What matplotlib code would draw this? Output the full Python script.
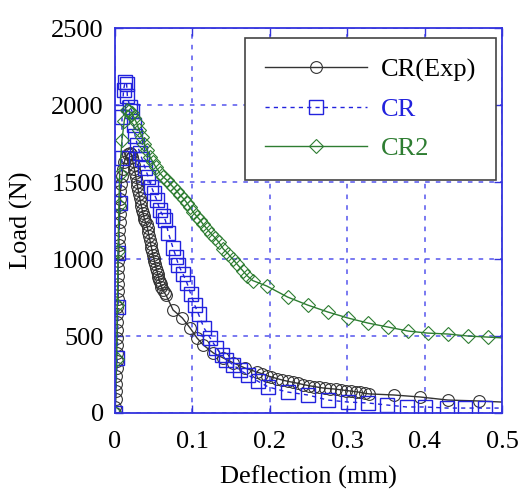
import matplotlib
matplotlib.use("Agg")
import matplotlib.pyplot as plt

plt.rcParams["font.family"] = ["Liberation Serif", "DejaVu Serif"]

# CR(Exp) - experiment
exp_x = [0.000, 0.000, 0.001, 0.001, 0.001, 0.001, 0.002, 0.002, 0.002, 0.002,
         0.003, 0.003, 0.003, 0.003, 0.003, 0.004, 0.004, 0.004, 0.004, 0.004,
         0.004, 0.005, 0.005, 0.005, 0.005, 0.006, 0.006, 0.006, 0.007, 0.007,
         0.008, 0.009, 0.010, 0.012, 0.014, 0.017,
         0.019, 0.021, 0.022, 0.023, 0.024, 0.025, 0.026, 0.027, 0.028, 0.029,
         0.030, 0.031, 0.032, 0.033, 0.034, 0.035, 0.036, 0.037, 0.038, 0.039,
         0.041, 0.042, 0.043, 0.044, 0.045, 0.046, 0.047, 0.048, 0.049, 0.050,
         0.051, 0.052, 0.053, 0.054, 0.055, 0.056, 0.057, 0.058, 0.059, 0.060,
         0.062, 0.064, 0.066,
         0.075, 0.087, 0.097, 0.106, 0.114, 0.127, 0.140, 0.153, 0.168, 0.183,
         0.190, 0.196, 0.202, 0.209, 0.216, 0.223, 0.230, 0.237, 0.243, 0.250,
         0.257, 0.264, 0.271, 0.278, 0.285, 0.292, 0.299, 0.305, 0.311, 0.317,
         0.323, 0.328, 0.360, 0.394, 0.430, 0.470, 0.500]
exp_y = [0, 40, 90, 140, 190, 240, 290, 340, 390, 440,
         490, 540, 590, 640, 690, 740, 790, 840, 890, 940,
         990, 1040, 1090, 1140, 1190, 1240, 1290, 1340, 1390, 1440,
         1490, 1540, 1585, 1630, 1665, 1685,
         1688, 1680, 1660, 1635, 1610, 1585, 1560, 1530, 1500, 1475,
         1448, 1420, 1395, 1370, 1345, 1320, 1300, 1280, 1260, 1245,
         1225, 1200, 1175, 1150, 1125, 1100, 1075, 1050, 1025, 1005,
         985, 965, 945, 925, 905, 885, 865, 850, 835, 820,
         800, 780, 765,
         669, 617, 552, 487, 442, 390, 357, 325, 292, 266,
         255, 243, 234, 224, 214, 206, 199, 192, 185, 178,
         172, 166, 161, 158, 155, 150, 146, 142, 138, 134,
         128, 124, 117, 104, 84, 78, 71]

# CR - model
cr_x = [0.000, 0.003, 0.004, 0.004, 0.007, 0.009, 0.009, 0.011, 0.013, 0.015,
        0.016, 0.019, 0.022, 0.024, 0.026, 0.029, 0.032, 0.035, 0.039, 0.043,
        0.047, 0.050, 0.054, 0.058, 0.062, 0.065, 0.069, 0.075, 0.079, 0.082,
        0.088, 0.093, 0.098, 0.103, 0.108, 0.115, 0.123, 0.131, 0.138, 0.144,
        0.153, 0.161, 0.172, 0.185, 0.198, 0.223, 0.249, 0.275, 0.301, 0.327,
        0.351, 0.377, 0.401, 0.429, 0.452, 0.478, 0.500]
cr_y = [0, 357, 690, 1039, 1364, 1656, 1922, 2097, 2150, 2136,
        2058, 1990, 1960, 1870, 1800, 1740, 1690, 1650, 1590, 1532,
        1470, 1430, 1383, 1318, 1280, 1253, 1169, 1071, 1013, 960,
        900, 844, 770, 700, 640, 552, 487, 422, 377, 344,
        312, 279, 247, 205, 169, 136, 117, 84, 71, 65,
        52, 39, 39, 32, 32, 32, 32]

# CR2 - model
cr2_x = [0.000, 0.002, 0.003, 0.004, 0.005, 0.006, 0.009, 0.012, 0.015, 0.018,
         0.022, 0.025, 0.028, 0.031, 0.035, 0.038, 0.041, 0.045, 0.049, 0.053,
         0.058, 0.062, 0.067, 0.071, 0.075, 0.080, 0.084, 0.089, 0.093, 0.097,
         0.101, 0.106, 0.110, 0.114, 0.119, 0.124, 0.129, 0.134, 0.140, 0.146,
         0.152, 0.158, 0.165, 0.171, 0.178, 0.196, 0.223, 0.249, 0.275, 0.301,
         0.327, 0.353, 0.379, 0.404, 0.430, 0.456, 0.482, 0.500]
cr2_y = [0, 350, 700, 1050, 1350, 1552, 1773, 1900, 1968, 1960,
         1948, 1915, 1883, 1840, 1792, 1750, 1708, 1665, 1630, 1595,
         1558, 1535, 1513, 1490, 1468, 1440, 1416, 1390, 1364, 1335,
         1305, 1275, 1253, 1225, 1195, 1165, 1140, 1110, 1065, 1035,
         1000, 965, 925, 890, 860, 825, 753, 701, 656, 617,
         584, 558, 532, 519, 513, 500, 493, 488]

blue = "#2222dd"
green = "#2e7d32"

fig = plt.figure(figsize=(5.19, 4.94), dpi=100)
ax = fig.add_axes([0.2216, 0.164, 0.7457, 0.779])

ax.plot(exp_x, exp_y, color="#333333", lw=1, marker="o", ms=8.5, mfc="none",
        mec="#333333", mew=0.8, markevery=list(range(len(exp_x) - 1)),
        label="CR(Exp)")
ax.plot(cr_x, cr_y, color=blue, lw=1, ls=(0, (3, 3)), marker="s", ms=10,
        mfc="none", mec=blue, mew=1, markevery=list(range(len(cr_x) - 1)),
        label="CR")
ax.plot(cr2_x, cr2_y, color=green, lw=1, marker="D", ms=7.5, mfc="none",
        mec=green, mew=0.8, markevery=list(range(len(cr2_x) - 1)),
        label="CR2")

ax.set_xlim(0, 0.5)
ax.set_ylim(0, 2500)
ax.set_xticks([0, 0.1, 0.2, 0.3, 0.4, 0.5])
ax.set_xticklabels(["0", "0.1", "0.2", "0.3", "0.4", "0.5"])
ax.set_yticks([0, 500, 1000, 1500, 2000, 2500])

ax.grid(True, color="#5555ee", ls=(0, (3, 4)), lw=1.1)
for s in ax.spines.values():
    s.set_color("#3333dd")
    s.set_linewidth(1.3)
ax.tick_params(direction="in", length=6, color="#3333dd", width=1,
               top=True, right=True, labelsize=19)
ax.tick_params(axis="x", pad=13)
ax.tick_params(axis="y", pad=8)

ax.set_xlabel("Deflection (mm)", fontsize=19, labelpad=9)
ax.set_ylabel("Load (N)", fontsize=19, labelpad=13)

leg = ax.legend(loc="upper right", bbox_to_anchor=(0.984, 0.974), fontsize=19,
                handlelength=3.9, handletextpad=0.5, labelspacing=0.6,
                borderpad=0.75, borderaxespad=0, fancybox=False, framealpha=1,
                edgecolor="#444444", markerscale=1)
leg.get_frame().set_linewidth(1.2)
for t, c in zip(leg.get_texts(), ["black", blue, green]):
    t.set_color(c)

fig.savefig("out.png", dpi=100)
